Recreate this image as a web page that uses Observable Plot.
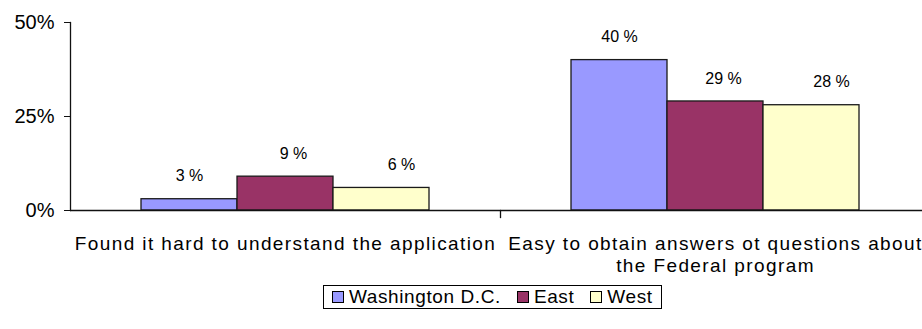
<!DOCTYPE html>
<html>
<head>
<meta charset="utf-8">
<script src="https://cdn.jsdelivr.net/npm/d3@7"></script>
<script src="https://cdn.jsdelivr.net/npm/@observablehq/plot@0.6"></script>
<style>
  html, body { margin: 0; padding: 0; background: #fff; }
  body { width: 922px; height: 329px; overflow: hidden; font-family: "Liberation Sans", Arial, sans-serif; }
  #legend {
    position: absolute; left: 323px; top: 285px;
    display: flex; align-items: center; gap: 16px;
    border: 1px solid #000; padding: 1px 8px; font-size: 19px; line-height: 20px; color: #000;
    letter-spacing: 0.6px;
  }
  #legend .item { display: flex; align-items: center; gap: 5px; }
  #legend .sw { width: 10px; height: 10px; border: 1px solid #000; display: inline-block; }
  g[aria-label="fx-axis tick label"] { letter-spacing: 1.4px; }
</style>
</head>
<body>
<div id="chart"></div>
<div id="legend"></div>
<script>
const categories = [
  "Found it hard to understand the application",
  "Easy to obtain answers ot questions about the Federal program"
];
const categoryLabels = [
  "Found it hard to understand the application",
  "Easy to obtain answers ot questions about\nthe Federal program"
];
const series = ["Washington D.C.", "East", "West"];
const washington = [3, 40];
const east = [9, 29];
const west = [6, 28];
const colors = ["#9999FF", "#993366", "#FFFFCC"];
const yTicks = [0, 25, 50];

const seriesValues = [washington, east, west];
const data = categories.flatMap((c, i) =>
  series.map((s, j) => ({category: c, series: s, value: seriesValues[j][i]}))
);

const H = 290, MT = 22, MB = 80;
const plotHeight = H - MT - MB;
const labelShift = [0, 8, 20]; // Excel places the labels slightly right of bar centre

const chart = Plot.plot({
  width: 922,
  height: H,
  marginLeft: 70,
  marginRight: -8,
  marginTop: MT,
  marginBottom: MB,
  style: {fontFamily: "'Liberation Sans', Arial, sans-serif", fontSize: "20px", color: "#000", background: "#fff", overflow: "visible"},
  fx: {domain: categories, padding: 0, axis: null},
  x: {domain: series, paddingInner: 0, paddingOuter: 0.72, axis: null},
  y: {domain: [0, 50], axis: null},
  color: {domain: series, range: colors},
  marks: [
    Plot.barY(data, {fx: "category", x: "series", y: "value", fill: "series", stroke: "#1a1a1a", strokeWidth: 1.3}),
    ...series.map((s, j) => Plot.text(data, {
      filter: d => d.series === s,
      fx: "category", x: "series", y: "value",
      text: d => d.value + " %", dy: -23, dx: labelShift[j], fontSize: 16, fill: "#000"
    })),
    Plot.ruleY([0], {stroke: "#111", strokeWidth: 1.3}),
    Plot.frame({anchor: "left", facetAnchor: "left", stroke: "#111", strokeWidth: 1.3}),
    Plot.frame({anchor: "left", facetAnchor: "right", stroke: "#111", strokeWidth: 1.3, insetTop: plotHeight, insetBottom: -7}),
    Plot.axisY({ticks: yTicks, tickFormat: d => d + "%", tickSize: 6, tickPadding: 10, fontSize: 20, label: null, stroke: "#111"}),
    Plot.axisFx({anchor: "bottom", domain: categories, tickSize: 0, tickPadding: 23, fontSize: 19, lineHeight: 1.2, label: null,
      tickFormat: d => categoryLabels[categories.indexOf(d)]})
  ]
});
document.getElementById("chart").append(chart);

const legend = document.getElementById("legend");
series.forEach((s, i) => {
  const item = document.createElement("span");
  item.className = "item";
  const sw = document.createElement("span");
  sw.className = "sw";
  sw.style.background = colors[i];
  const t = document.createElement("span");
  t.textContent = s;
  item.append(sw, t);
  legend.append(item);
});
</script>
</body>
</html>
